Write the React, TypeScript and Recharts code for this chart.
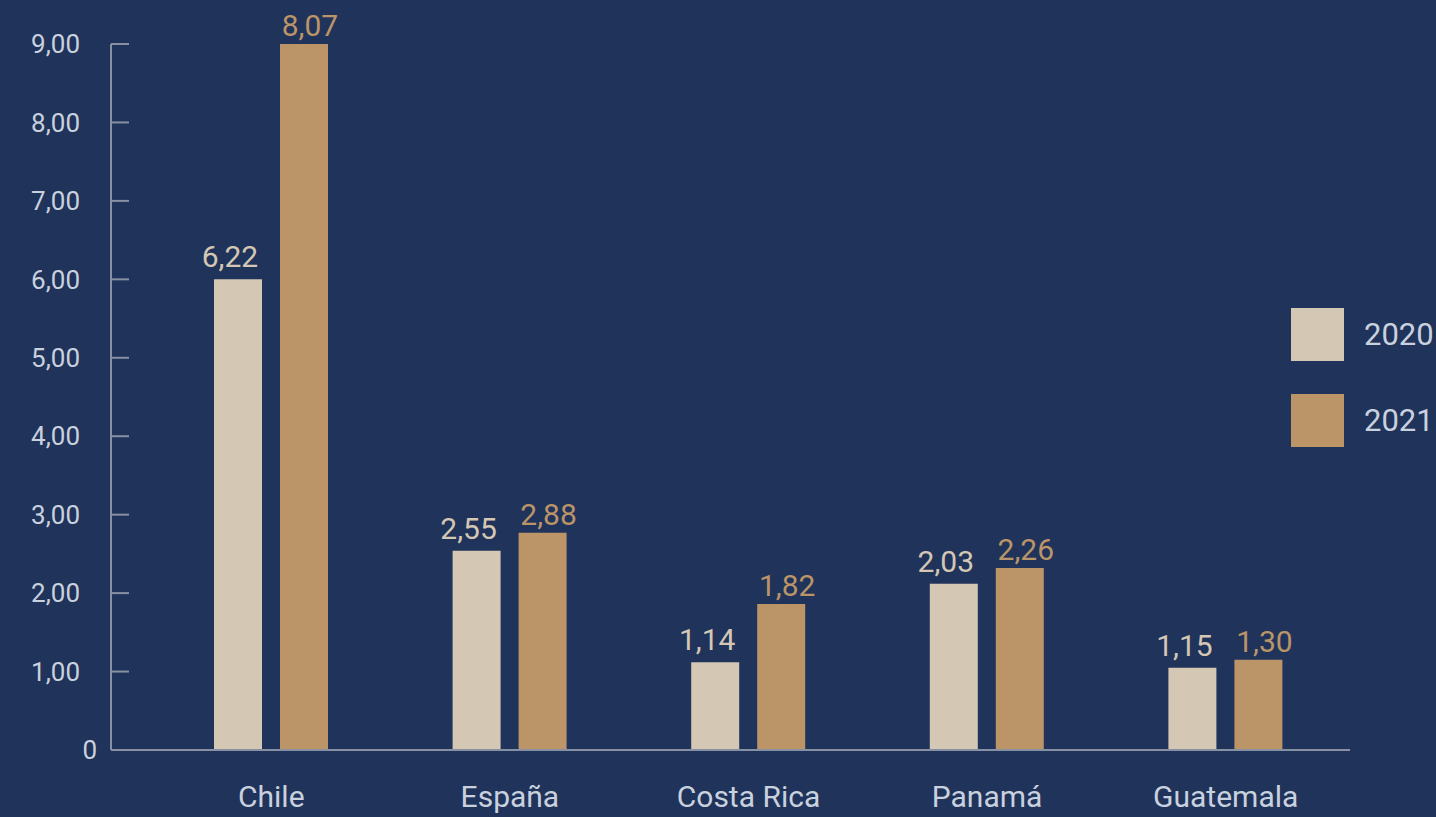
import { BarChart, Bar, XAxis, YAxis, Legend, LabelList } from "recharts";

const countries = ["Chile", "España", "Costa Rica", "Panamá", "Guatemala"];
// bar heights as drawn in the original (they don't match the printed labels)
const bars2020 = [6.0, 2.54, 1.12, 2.12, 1.05];
const bars2021 = [9.0, 2.77, 1.86, 2.32, 1.15];
const labels2020 = ["6,22", "2,55", "1,14", "2,03", "1,15"];
const labels2021 = ["8,07", "2,88", "1,82", "2,26", "1,30"];
const yTicks = [0, 1, 2, 3, 4, 5, 6, 7, 8, 9];
const yTickLabels = ["0", "1,00", "2,00", "3,00", "4,00", "5,00", "6,00", "7,00", "8,00", "9,00"];

const BG = "#20335b";
const AXIS = "#8791a3";
const TEXT = "#c9d1de";
const C2020 = "#d4c7b4";
const C2021 = "#bb9468";

const data = countries.map((c, i) => ({
  country: c,
  v2020: bars2020[i],
  v2021: bars2021[i],
  l2020: labels2020[i],
  l2021: labels2021[i],
}));

function YTick(props: any) {
  const { x, y, payload, index } = props;
  return (
    <text
      x={x}
      y={y}
      dx={payload.value === 0 ? 17 : 0}
      dy="0.355em"
      textAnchor="end"
      fill={TEXT}
      fontSize={26}
    >
      {yTickLabels[index]}
    </text>
  );
}

function LegendBox(props: any) {
  const items = props.payload || [];
  return (
    <div style={{ width: 145 }}>
      {items.map((it: any) => (
        <div key={it.value} style={{ display: "flex", alignItems: "center", height: 53, marginBottom: 33 }}>
          <div style={{ width: 53, height: 53, background: it.color, flexShrink: 0 }} />
          <span style={{ marginLeft: 20, color: TEXT, fontSize: 31, whiteSpace: "nowrap" }}>{it.value}</span>
        </div>
      ))}
    </div>
  );
}

export default function App() {
  return (
    <div
      style={{
        position: "absolute",
        left: 0,
        top: 0,
        width: 1436,
        height: 817,
        overflow: "hidden",
        background: BG,
        fontFamily: "Roboto, sans-serif",
      }}
    >
      <BarChart width={1436} height={817} data={data} margin={{ top: 44, right: 86, left: 0, bottom: 0 }} barGap={18}>
        <XAxis
          dataKey="country"
          height={67}
          padding={{ left: 41, right: 5 }}
          axisLine={{ stroke: AXIS, strokeWidth: 2 }}
          tickLine={false}
          tickMargin={30}
          tick={{ fill: TEXT, fontSize: 30 }}
          interval={0}
        />
        <YAxis
          width={111}
          domain={[0, 9]}
          ticks={yTicks}
          interval={0}
          axisLine={{ stroke: AXIS, strokeWidth: 2 }}
          tickLine={{ stroke: AXIS, strokeWidth: 2 }}
          tickSize={-18}
          tickMargin={49}
          tick={<YTick />}
        />
        <Legend
          layout="horizontal"
          verticalAlign="middle"
          align="right"
          content={<LegendBox />}
          wrapperStyle={{ left: 1291, top: 308, width: 0, height: 0, overflow: "visible" }}
        />
        <Bar dataKey="v2020" name="2020" fill={C2020} barSize={48} isAnimationActive={false}>
          <LabelList dataKey="l2020" position="top" offset={12} dx={-8} fill={C2020} fontSize={30} />
        </Bar>
        <Bar dataKey="v2021" name="2021" fill={C2021} barSize={48} isAnimationActive={false}>
          <LabelList dataKey="l2021" position="top" offset={8} dx={6} fill={C2021} fontSize={30} />
        </Bar>
      </BarChart>
    </div>
  );
}
